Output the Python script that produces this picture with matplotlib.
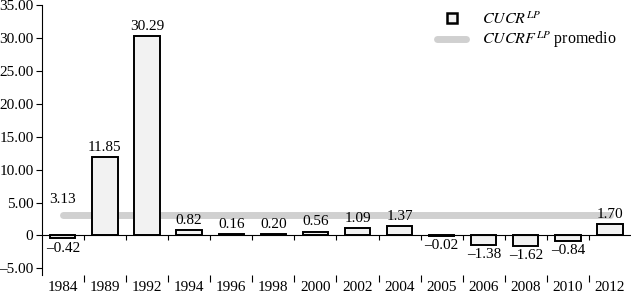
import matplotlib.pyplot as plt
import numpy as np
from matplotlib.lines import Line2D

plt.rcParams["font.family"] = ["Liberation Serif", "DejaVu Serif"]
plt.rcParams["mathtext.fontset"] = "stix"

# ------------------------------------------------------
# Data
# ------------------------------------------------------
years = ["1984", "1989", "1992", "1994", "1996", "1998", "2000",
         "2002", "2004", "2005", "2006", "2008", "2010", "2012"]
cucr = [-0.42, 11.85, 30.29, 0.82, 0.16, 0.20, 0.56,
        1.09, 1.37, -0.02, -1.38, -1.62, -0.84, 1.70]
promedio = 3.13

y_ticks = [-5, 0, 5, 10, 15, 20, 25, 30, 35]
y_tick_labels = ["–5.00", "0", "5.00", "10.00", "15.00", "20.00",
                 "25.00", "30.00", "35.00"]


def fmt(v):
    return f"{v:.2f}".replace("-", "–")


# ------------------------------------------------------
# Plot
# ------------------------------------------------------
fig = plt.figure(figsize=(6.33, 2.96), dpi=100)
ax = fig.add_axes([0.066, 0.071, 0.931, 0.912])

x = np.arange(len(years))

ax.bar(x, cucr, width=0.6, color="#f2f2f2", edgecolor="black",
       linewidth=1.4, zorder=3)

ax.plot([x[0], x[-1]], [promedio, promedio], color="#d0d0d0",
        linewidth=5, solid_capstyle="round", zorder=2)

ax.axhline(0, color="black", linewidth=0.8, zorder=4)

# value labels
for xi, v in zip(x, cucr):
    if v >= 0:
        ax.text(xi, v + 0.5, fmt(v), ha="center", va="bottom", fontsize=11)
    else:
        ax.text(xi, v - 0.5, fmt(v), ha="center", va="top", fontsize=11)
ax.text(x[0], promedio + 1.3, fmt(promedio), ha="center", va="bottom",
        fontsize=11)

# separators between categories on the zero line
bounds = x[:-1] + 0.5
ax.vlines(bounds, 0, -0.75, color="black", linewidth=0.8, zorder=4)

ax.set_xlim(-0.5, len(years) - 0.5)
ax.set_ylim(-6, 35)

ax.set_xticks(x)
ax.set_xticklabels(years, fontsize=11)
ax.set_xticks(bounds, minor=True)
ax.tick_params(axis="x", which="major", length=0, pad=4)
ax.tick_params(axis="x", which="minor", length=5, width=0.8, direction="out")

ax.set_yticks(y_ticks)
ax.set_yticklabels(y_tick_labels, fontsize=11)
ax.tick_params(axis="y", length=4, width=0.8, pad=2)

for s in ["top", "right", "bottom"]:
    ax.spines[s].set_visible(False)
ax.spines["left"].set_linewidth(0.8)

handles = [
    Line2D([0], [0], linestyle="none", marker="s", markersize=7,
           markerfacecolor="#f2f2f2", markeredgecolor="black",
           markeredgewidth=1.8),
    Line2D([0], [0], color="#d0d0d0", linewidth=5, solid_capstyle="round"),
]
labels = [r"$\mathit{CUCR}^{\mathit{LP}}$",
          r"$\mathit{CUCRF}^{\mathit{LP}}$ promedio"]
ax.legend(handles, labels, loc="upper right", bbox_to_anchor=(1.0, 1.03),
          frameon=False, fontsize=11.5, handlelength=1.8, handletextpad=1.0,
          labelspacing=0.1)

fig.savefig("out.png", dpi=100)
